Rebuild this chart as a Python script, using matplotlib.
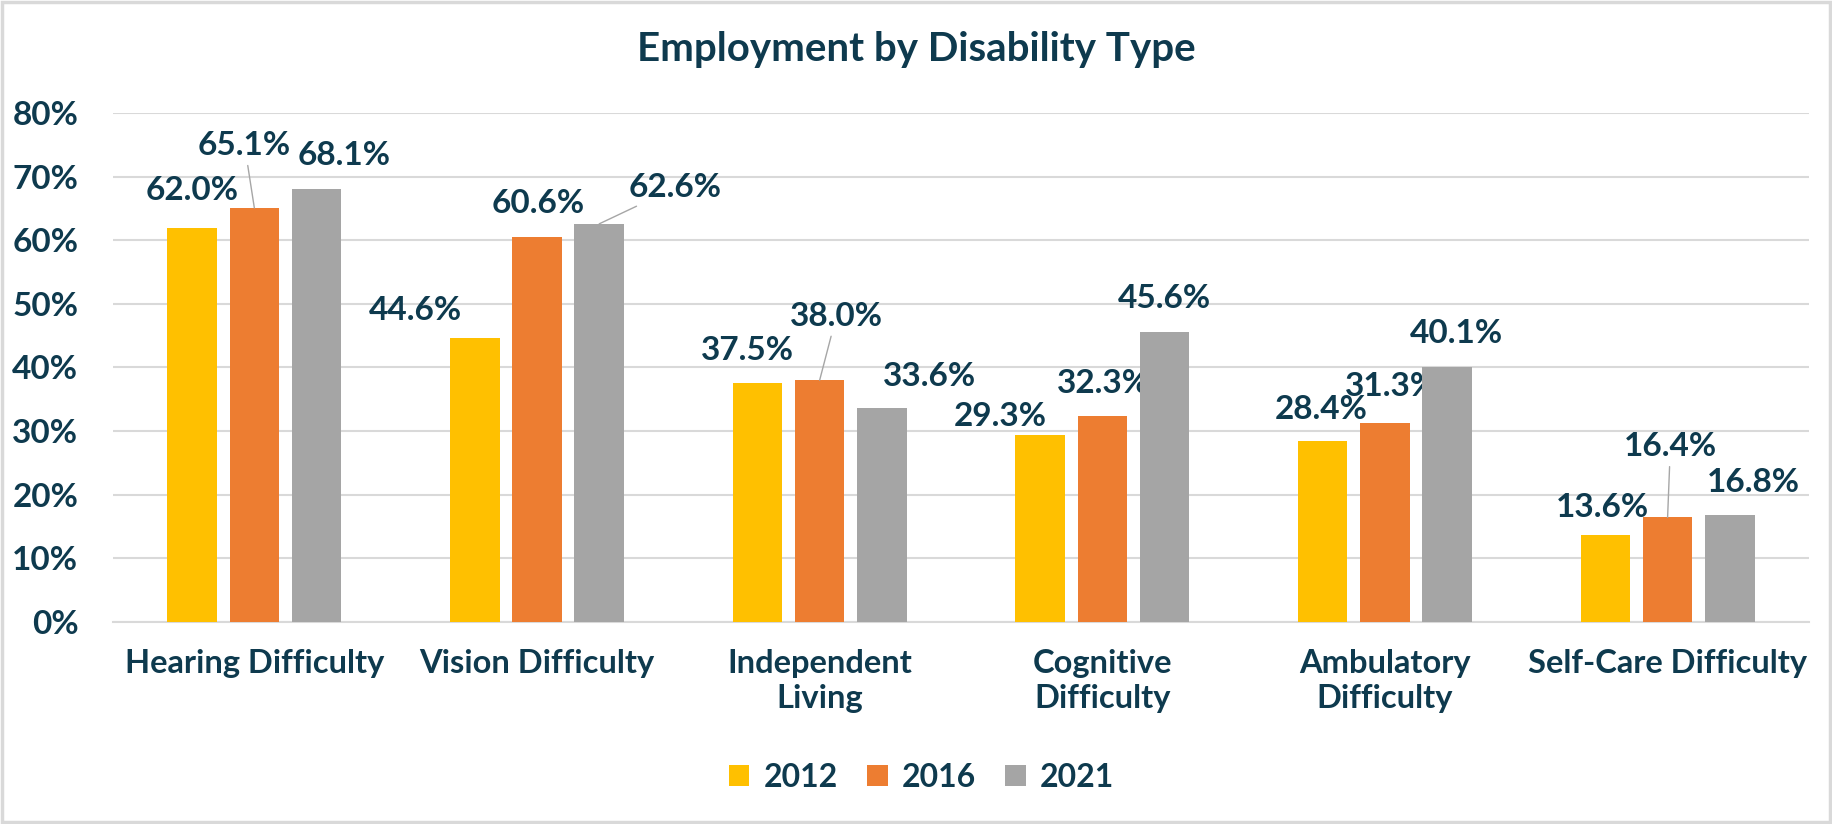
import numpy as np
import matplotlib
matplotlib.use("Agg")
import matplotlib.pyplot as plt
from matplotlib.patches import Rectangle

# data
categories = ["Hearing Difficulty", "Vision Difficulty", "Independent\nLiving",
              "Cognitive\nDifficulty", "Ambulatory\nDifficulty", "Self-Care Difficulty"]
years = ["2012", "2016", "2021"]
emp_2012 = [62.0, 44.6, 37.5, 29.3, 28.4, 13.6]
emp_2016 = [65.1, 60.6, 38.0, 32.3, 31.3, 16.4]
emp_2021 = [68.1, 62.6, 33.6, 45.6, 40.1, 16.8]

# label placement (offset points from bar top) and which labels get a leader line
label_offsets = [
    [(0, 27), (-7, 45), (20, 24)],
    [(-43, 20), (1, 24), (55, 26)],
    [(-7, 24), (12, 46), (34, 23)],
    [(-29, 14), (1, 24), (0, 24)],
    [(-1, 23), (5, 26), (7, 24)],
    [(-2, 20), (2, 51), (17, 23)],
]
leaders = [(0, 1), (1, 2), (2, 1), (5, 1)]

colors = ["#FFC000", "#ED7D31", "#A5A5A5"]
text_col = "#0E3A4E"
grid_col = "#D9D9D9"

plt.rcParams['font.family'] = ['Lato', 'DejaVu Sans']
plt.rcParams['font.weight'] = 'bold'

fig = plt.figure(figsize=(18.32, 8.24), dpi=100)
ax = fig.add_axes([0.0617, 0.2456, 0.9257, 0.6169])

x = np.arange(len(categories))
width = 0.175
step = 0.22
series = [emp_2012, emp_2016, emp_2021]
for j, vals in enumerate(series):
    xs = x + (j - 1) * step
    ax.bar(xs, np.array(vals) / 100, width, color=colors[j], label=years[j], zorder=3)
    for i, v in enumerate(vals):
        dx, dy = label_offsets[i][j]
        kw = {}
        if (i, j) in leaders:
            kw['arrowprops'] = dict(arrowstyle='-', color='#A6A6A6', lw=1.0,
                                    shrinkA=2, shrinkB=0)
        ax.annotate(f"{v:.1f}%", xy=(xs[i], v / 100), xytext=(dx, dy),
                    textcoords='offset points', ha='center', va='center',
                    fontsize=24, fontweight='bold', color=text_col, **kw)

ax.set_xlim(-0.5, len(categories) - 0.5)
ax.set_ylim(0, 0.8)
ax.set_yticks(np.arange(0, 0.81, 0.1))
ax.set_yticklabels([f"{int(round(t * 100))}%" for t in np.arange(0, 0.81, 0.1)])
ax.set_xticks(x)
ax.set_xticklabels(categories, linespacing=1.25)
ax.tick_params(axis='x', length=0, labelsize=23.5, labelcolor=text_col, pad=20)
ax.tick_params(axis='y', length=0, labelsize=24, labelcolor=text_col, pad=25)
for lab in ax.get_xticklabels() + ax.get_yticklabels():
    lab.set_fontweight('bold')

ax.grid(axis='y', color=grid_col, lw=1.5, zorder=0)
for s in ['top', 'right', 'left']:
    ax.spines[s].set_visible(False)
ax.spines['bottom'].set_color(grid_col)
ax.spines['bottom'].set_linewidth(1.5)

fig.text(0.5, 0.94, "Employment by Disability Type", ha='center', va='center',
         fontsize=29, fontweight='bold', color=text_col)

leg = fig.legend(loc='center', bbox_to_anchor=(0.503, 0.057), ncol=3, frameon=False,
                 fontsize=23, handlelength=0.65, handleheight=0.65, columnspacing=0.9,
                 handletextpad=0.45)
for t in leg.get_texts():
    t.set_color(text_col)
    t.set_fontweight('bold')

fig.patches.append(Rectangle((0.001, 0.002), 0.998, 0.996, transform=fig.transFigure,
                             fill=False, edgecolor=grid_col, lw=2.5))

fig.savefig("out.png", dpi=100)
